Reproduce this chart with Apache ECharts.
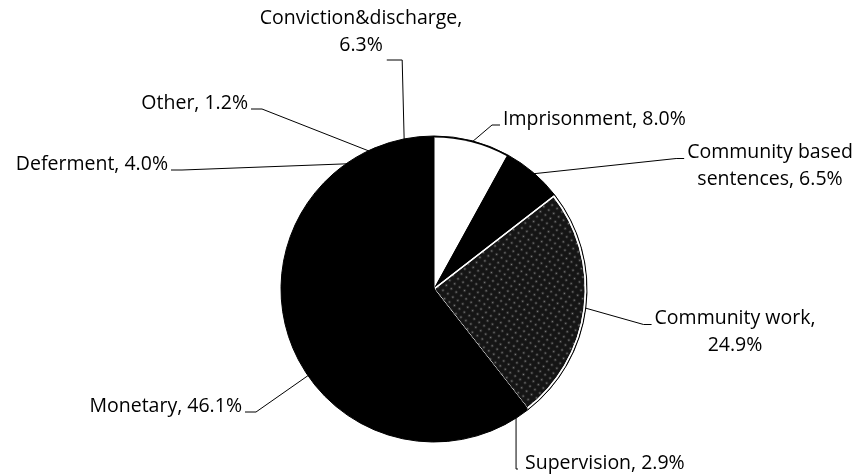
<!DOCTYPE html>
<html>
<head>
<meta charset="utf-8">
<script src="https://cdn.jsdelivr.net/npm/echarts@6/dist/echarts.min.js"></script>
<style>
  html, body { margin: 0; background: #fff; }
  #chart { width: 858px; height: 475px; }
</style>
</head>
<body>
<div id="chart"></div>
<script>
// slices, clockwise from 12 o'clock
const categories = ['Imprisonment', 'Community based\nsentences', 'Community work', 'Supervision',
  'Monetary', 'Deferment', 'Other', 'Conviction&discharge'];
const shares = [8.0, 6.5, 24.9, 2.9, 46.1, 4.0, 1.2, 6.3];
// labels that break after the comma
const breakAfterComma = [false, false, true, false, false, false, false, true];

const FONT = 'Open Sans';
const FONT_SIZE = 19.5;
const LINE_H = 27;

// where each label sits and which side the leader line enters from
const labelPlace = [
  { x: 503, y: 119, align: 'left', side: 'L' },
  { x: 770, y: 166, align: 'center', side: 'L' },
  { x: 735, y: 332, align: 'center', side: 'L' },
  { x: 525, y: 463, align: 'left', side: 'V' },
  { x: 242, y: 406, align: 'right', side: 'R' },
  { x: 168, y: 164, align: 'right', side: 'R' },
  { x: 248, y: 103, align: 'right', side: 'R' },
  { x: 361, y: 32, align: 'center', side: 'B' }
];

const ctx = document.createElement('canvas').getContext('2d');
ctx.font = FONT_SIZE + 'px ' + FONT;

const labelText = i => categories[i] + ',' + (breakAfterComma[i] ? '\n' : ' ') + shares[i].toFixed(1) + '%';

const chart = echarts.init(document.getElementById('chart'));

chart.setOption({
  animation: false,
  series: [
    {
      // thin black outline round the whole pie
      type: 'pie', silent: true,
      center: [434, 289], radius: 153,
      data: shares.map(v => ({ value: v })),
      itemStyle: { color: '#000', borderColor: '#000', borderWidth: 1 },
      label: { show: false }, labelLine: { show: false }
    },
    {
      type: 'pie',
      center: [434, 289], radius: 151.5,
      avoidLabelOverlap: false,
      data: shares.map((v, i) => ({
        name: categories[i], value: v,
        itemStyle: i === 0 ? { color: '#fff', borderWidth: 0 }
          : i === 2 ? {
              color: '#151515', borderColor: '#fff', borderWidth: 1.5,
              decal: { symbol: 'rect', symbolSize: 0.55, dashArrayX: 3, dashArrayY: 3, rotation: 0.6, color: 'rgba(255,255,255,0.45)' }
            }
          : { color: '#000', borderColor: '#000', borderWidth: 1 }
      })),
      label: {
        formatter: p => labelText(p.dataIndex),
        color: '#000', fontFamily: FONT, fontSize: FONT_SIZE, lineHeight: LINE_H
      },
      labelLine: { show: true, lineStyle: { color: '#000', width: 1 } },
      labelLayout: params => {
        const i = params.dataIndex;
        const p = labelPlace[i];
        const w = params.labelRect.width, h = params.labelRect.height;
        const a = params.labelLinePoints[0];
        const left = p.align === 'left' ? p.x : p.align === 'center' ? p.x - w / 2 : p.x - w;
        const top = p.y - h / 2;
        const yAttach = top + LINE_H / 2 + 6;
        let mid, end;
        if (p.side === 'L') {
          end = [left - 3, yAttach]; mid = [left - 11, yAttach];
        } else if (p.side === 'R') {
          end = [left + w + 3, yAttach]; mid = [left + w + 14, yAttach];
        } else if (p.side === 'B') {
          const lines = labelText(i).split('\n');
          const lastW = ctx.measureText(lines[lines.length - 1]).width;
          end = [p.x + lastW / 2 + 4, top + h + 1]; mid = [a[0] - 2, top + h + 1];
        } else {
          end = [left - 7, p.y + 6]; mid = [a[0], p.y + 6];
        }
        return {
          x: p.x, y: p.y, align: p.align, verticalAlign: 'middle',
          labelLinePoints: [a, mid, end]
        };
      }
    }
  ]
});
</script>
</body>
</html>
